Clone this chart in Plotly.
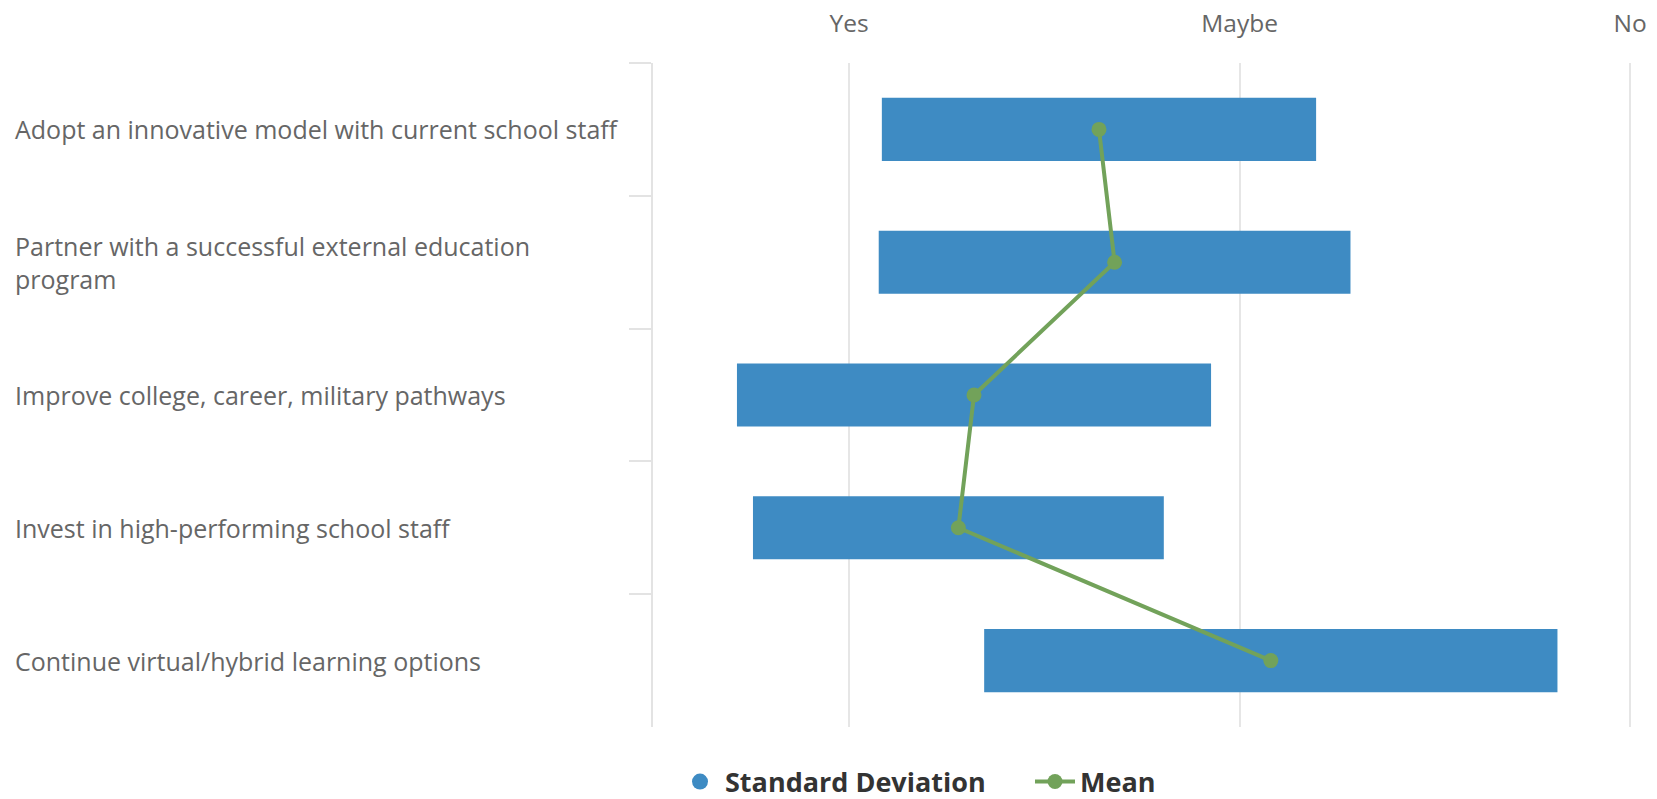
import plotly.graph_objects as go

categories = [
    "Adopt an innovative model with current school staff",
    "Partner with a successful external education<br>program",
    "Improve college, career, military pathways",
    "Invest in high-performing school staff",
    "Continue virtual/hybrid learning options",
]
mean_values = [1.64, 1.68, 1.32, 1.28, 2.08]
sd_values = [0.556, 0.604, 0.607, 0.526, 0.734]
x_tick_vals = [1, 2, 3]
x_tick_text = ["Yes", "Maybe", "No"]

BAR_COLOR = "#3e8bc3"
LINE_COLOR = "#72a25a"
FONT = "Open Sans"

W, H = 1657, 799
ML, MR, MT, MB = 653, 23, 63, 72
plot_w = W - ML - MR

fig = go.Figure()

fig.add_trace(go.Bar(
    y=categories,
    x=[2 * s for s in sd_values],
    base=[m - s for m, s in zip(mean_values, sd_values)],
    orientation="h",
    marker=dict(color=BAR_COLOR, line=dict(width=0)),
    name="Standard Deviation",
    showlegend=False,
    width=0.475,
))

# legend-only entry with circle symbol
fig.add_trace(go.Scatter(
    x=[None], y=[None], mode="markers",
    marker=dict(color=BAR_COLOR, size=22, symbol="circle"),
    name="Standard Deviation", showlegend=True,
))

fig.add_trace(go.Scatter(
    y=categories,
    x=mean_values,
    mode="lines+markers",
    line=dict(color=LINE_COLOR, width=4),
    marker=dict(color=LINE_COLOR, size=15),
    name="Mean",
))

for cat in categories:
    fig.add_annotation(
        xref="paper", yref="y",
        x=(13 - ML) / plot_w, y=cat,
        text=cat, showarrow=False,
        xanchor="left", yanchor="middle", align="left",
        font=dict(family=FONT, size=25, color="#666666"),
    )

fig.update_layout(
    width=W, height=H,
    margin=dict(l=ML, r=MR, t=MT, b=MB, pad=0, autoexpand=False),
    paper_bgcolor="white", plot_bgcolor="white",
    font=dict(family=FONT, color="#666666"),
    showlegend=True,
    legend=dict(
        orientation="h",
        xref="container", yref="container",
        x=675 / W, xanchor="left",
        y=(H - 782) / H, yanchor="middle",
        font=dict(family=FONT, size=27, color="#333333", weight="bold"),
        itemwidth=40,
        entrywidth=300, entrywidthmode="pixels",
        bgcolor="rgba(0,0,0,0)",
    ),
    xaxis=dict(
        side="top",
        range=[0.498, 3.01],
        tickvals=x_tick_vals, ticktext=x_tick_text,
        showgrid=True, gridcolor="#e6e6e6", gridwidth=1.5,
        zeroline=False, showline=False,
        ticks="outside", ticklen=20, tickcolor="rgba(0,0,0,0)",
        tickfont=dict(family=FONT, size=24.5, color="#666666"),
        automargin=False,
    ),
    yaxis=dict(
        type="category",
        categoryorder="array", categoryarray=categories,
        autorange="reversed",
        showticklabels=False,
        showgrid=False, zeroline=False,
        showline=True, linecolor="#e3e3e3", linewidth=1.5,
        ticks="outside", tickson="boundaries", ticklen=22,
        tickcolor="#e3e3e3", tickwidth=1.5,
        automargin=False,
    ),
)

fig.write_html("out.html", config={"displayModeBar": False},
               post_script="document.body.style.margin='0';")
